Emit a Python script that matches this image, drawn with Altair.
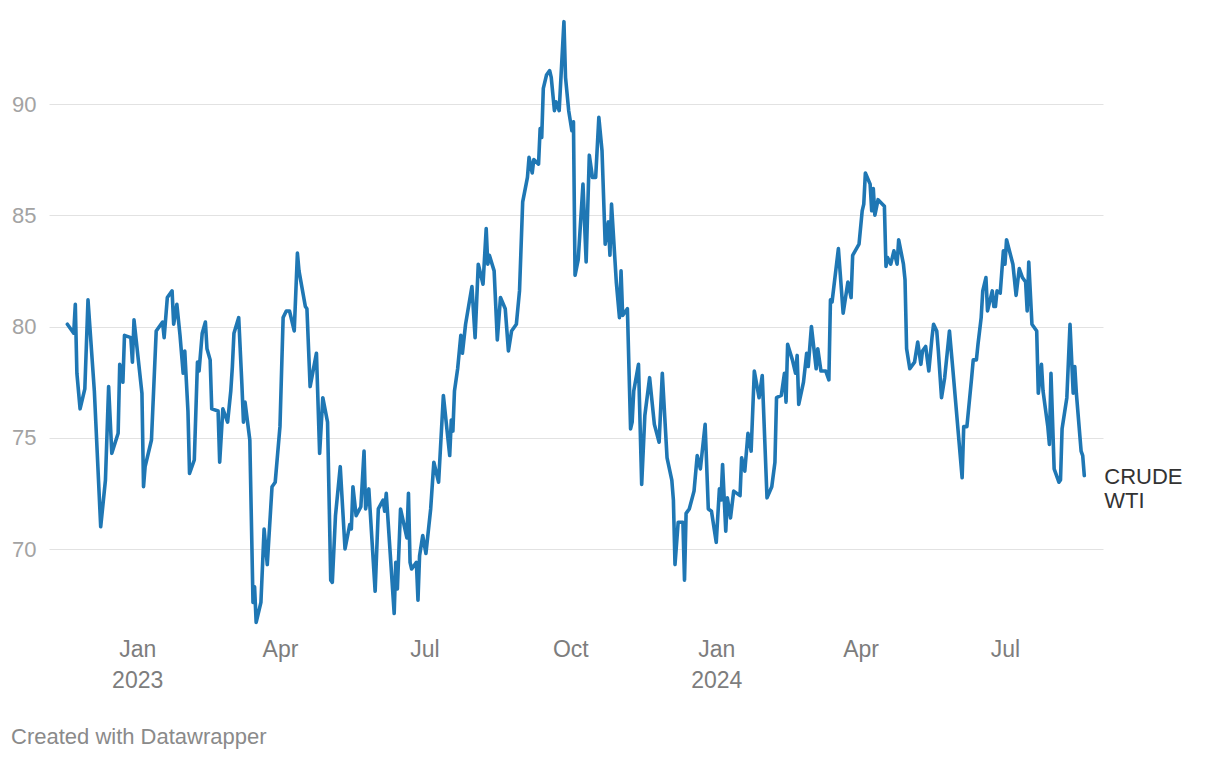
import altair as alt
import pandas as pd

# Days since 2023-01-01 (UTC) and WTI crude price (USD/bbl)
days = [
    -44, -40, -39, -38, -36, -33, -31, -27, -23, -20,
    -18, -16, -12, -11, -9, -8, -4, -3, -2, 3,
    4, 5, 9, 12, 16, 17, 19, 22, 23, 25,
    27, 29, 30, 32, 33, 36, 38, 39, 41, 43,
    44, 46, 47, 51, 52, 54, 57, 59, 60, 61,
    64, 66, 67, 68, 71, 73, 74, 75, 78, 80,
    82, 85, 87, 90, 92, 94, 96, 99, 101, 102,
    106, 107, 109, 113, 115, 117, 120, 122, 123, 125,
    128, 131, 134, 135, 136, 138, 141, 143, 144, 146,
    150, 152, 155, 156, 157, 162, 163, 164, 166, 170,
    171, 172, 173, 176, 177, 178, 180, 182, 185, 187,
    190, 193, 197, 198, 199, 200, 202, 204, 205, 207,
    211, 213, 215, 218, 220, 221, 222, 225, 227, 229,
    232, 234, 236, 239, 241, 243, 246, 247, 249, 250,
    253, 254, 255, 256, 258, 260, 261, 263, 264, 266,
    269, 270, 272, 274, 275, 276, 278, 281, 283, 285,
    287, 289, 291, 293, 295, 297, 298, 299, 302, 304,
    305, 306, 309, 311, 312, 313, 316, 318, 320, 323,
    326, 329, 331, 334, 337, 338, 339, 341, 344, 345,
    346, 348, 351, 353, 355, 358, 360, 362, 365, 367,
    368, 369, 371, 372, 374, 376, 380, 381, 383, 385,
    387, 389, 392, 394, 397, 400, 402, 403, 406, 408,
    409, 410, 413, 415, 416, 417, 420, 422, 423, 425,
    428, 429, 431, 434, 436, 437, 438, 442, 445, 448,
    450, 451, 455, 457, 458, 459, 462, 463, 464, 465,
    467, 471, 472, 473, 475, 477, 479, 480, 483, 484,
    485, 487, 490, 492, 494, 495, 497, 499, 501, 502,
    504, 505, 507, 509, 512, 514, 520, 521, 523, 526,
    527, 529, 530, 532, 533, 535, 536, 539, 540, 541,
    542, 544, 546, 547, 548, 552, 554, 556, 558, 560,
    561, 562, 564, 567, 568, 570, 571, 574, 575, 576,
    578, 581, 582, 583, 586, 588, 590, 591, 592, 595,
    596, 597,
]

price = [
    80.1, 79.7, 81.0, 77.9, 76.3, 77.2, 81.2, 77.1, 71.0, 73.1,
    77.3, 74.3, 75.2, 78.3, 77.5, 79.6, 79.5, 78.4, 80.3, 77.0,
    72.8, 73.7, 74.9, 79.8, 80.2, 79.5, 81.3, 81.6, 80.1, 81.0,
    79.6, 77.9, 78.9, 76.2, 73.4, 74.0, 78.4, 78.0, 79.7, 80.2,
    79.0, 78.5, 76.3, 76.2, 73.9, 76.3, 75.7, 77.1, 78.2, 79.7,
    80.4, 77.4, 75.7, 76.6, 74.9, 67.6, 68.3, 66.7, 67.6, 70.9,
    69.3, 72.8, 73.0, 75.5, 80.4, 80.7, 80.7, 79.8, 83.3, 82.5,
    80.9, 80.8, 77.3, 78.8, 74.3, 76.8, 75.7, 68.6, 68.5, 71.5,
    73.7, 70.0, 71.1, 70.9, 72.8, 71.5, 71.9, 74.4, 71.8, 72.7,
    68.1, 71.8, 72.2, 71.7, 72.5, 67.1, 69.4, 68.2, 71.8, 70.5,
    72.5, 69.4, 69.1, 69.4, 67.7, 69.7, 70.6, 69.8, 71.8, 73.9,
    73.0, 76.9, 74.2, 75.8, 75.3, 77.1, 78.1, 79.6, 78.8, 80.1,
    81.8, 79.5, 82.8, 81.9, 84.4, 82.8, 83.2, 82.5, 79.4, 81.3,
    80.8, 78.9, 79.8, 80.1, 81.6, 85.6, 86.7, 87.6, 86.9, 87.5,
    87.3, 88.9, 88.5, 90.7, 91.3, 91.5, 91.2, 89.7, 90.1, 89.7,
    93.7, 91.2, 89.7, 88.8, 89.2, 82.3, 83.0, 86.4, 82.9, 87.7,
    86.7, 86.7, 89.4, 87.9, 83.7, 84.7, 83.2, 85.5, 82.0, 80.4,
    82.5, 80.5, 80.8, 75.4, 75.7, 77.1, 78.3, 72.9, 76.0, 77.7,
    75.6, 74.8, 77.9, 74.1, 73.1, 72.2, 69.3, 71.2, 71.2, 68.6,
    71.6, 71.8, 72.6, 74.2, 73.6, 75.6, 71.8, 71.7, 70.3, 72.7,
    72.2, 73.8, 70.8, 72.3, 71.4, 72.6, 72.4, 74.1, 73.5, 75.2,
    74.4, 78.0, 76.8, 77.8, 72.3, 72.8, 73.9, 76.8, 76.9, 77.9,
    76.6, 79.2, 78.5, 77.9, 78.7, 76.5, 77.5, 78.8, 78.2, 80.0,
    78.1, 79.0, 78.0, 78.0, 77.6, 81.2, 81.1, 83.5, 80.6, 82.0,
    81.3, 83.2, 83.7, 85.2, 85.5, 86.9, 86.4, 85.2, 86.2, 85.0,
    85.7, 85.4, 82.7, 83.1, 82.8, 83.4, 82.8, 83.9, 82.8, 82.1,
    79.0, 78.1, 78.4, 79.3, 78.3, 78.9, 79.1, 78.0, 79.5, 80.1,
    79.8, 78.9, 76.8, 77.7, 79.8, 78.2, 73.2, 75.5, 75.5, 77.7,
    78.5, 78.5, 79.2, 80.4, 81.6, 82.2, 80.7, 81.6, 80.9, 80.9,
    81.6, 81.5, 83.4, 82.8, 83.9, 82.8, 81.4, 82.6, 82.2, 82.0,
    80.7, 82.9, 80.1, 79.8, 77.0, 78.3, 77.1, 75.5, 74.7, 77.9,
    73.6, 73.0, 73.1, 75.4, 76.8, 80.1, 77.0, 78.2, 77.0, 74.4,
    74.2, 73.3,
]

y_ticks = [70, 75, 80, 85, 90]
x_tick_dates = [(2023, 1), (2023, 4), (2023, 7), (2023, 10), (2024, 1), (2024, 4), (2024, 7)]
series_label = ["CRUDE", "WTI"]
footer = "Created with Datawrapper"

assert len(days) == len(price)

base = pd.Timestamp("2023-01-01")
df = pd.DataFrame({
    "date": [(base + pd.Timedelta(days=d)).strftime("%Y-%m-%d") for d in days],
    "price": price,
})

FONT = "Liberation Sans"

x_scale = alt.Scale(
    type="utc",
    domain=[
        alt.DateTime(year=2022, month=11, date=6, hours=10, utc=True),
        alt.DateTime(year=2024, month=8, date=31, hours=19, utc=True),
    ],
)
y_scale = alt.Scale(domain=[66, 94], nice=False, zero=False)

x_axis = alt.Axis(
    title=None,
    values=[alt.DateTime(year=y, month=m, date=1, utc=True) for y, m in x_tick_dates],
    labelExpr="utcFormat(datum.value, '%m') == '01' ? [utcFormat(datum.value, '%b'), utcFormat(datum.value, '%Y')] : utcFormat(datum.value, '%b')",
    grid=False,
    domain=False,
    ticks=False,
    tickSize=0,
    labelPadding=0,
    labelFontSize=23,
    labelColor="#7d7d7d",
    labelFont=FONT,
    labelLineHeight=31,
    labelBaseline="top",
    labelFlush=False,
    labelOverlap=False,
)

y_axis = alt.Axis(
    title=None,
    values=y_ticks,
    grid=True,
    gridColor="#e2e2e2",
    gridWidth=1,
    domain=False,
    ticks=False,
    tickSize=0,
    labelAlign="left",
    labelBaseline="middle",
    labelPadding=37.5,
    labelFontSize=22,
    labelColor="#a3a3a3",
    labelFont=FONT,
)

line = alt.Chart(df).mark_line(
    color="#1f77b4", strokeWidth=3.6, strokeJoin="round", strokeCap="round"
).encode(
    x=alt.X("date:T", scale=x_scale, axis=x_axis),
    y=alt.Y("price:Q", scale=y_scale, axis=y_axis),
)

label = alt.Chart(df.tail(1)).mark_text(
    text=series_label,
    align="left",
    baseline="alphabetic",
    dx=20,
    dy=8,
    fontSize=22,
    lineHeight=24,
    font=FONT,
    color="#333333",
).encode(
    x=alt.X("date:T", scale=x_scale),
    y=alt.Y("price:Q", scale=y_scale),
)

foot = alt.Chart(pd.DataFrame({"t": [footer]})).mark_text(
    align="left",
    baseline="alphabetic",
    fontSize=22,
    font=FONT,
    color="#8a8a8a",
).encode(
    text="t:N",
    x=alt.value(-38),
    y=alt.value(729),
)

chart = alt.layer(line, label, foot).properties(
    width=1054,
    height=623,
    autosize=alt.AutoSizeParams(type="none"),
    padding={"left": 49, "top": 15, "right": 117, "bottom": 122},
    background="white",
).configure_view(stroke=None)

chart.save("out.html", embed_options={"renderer": "svg", "actions": False})
